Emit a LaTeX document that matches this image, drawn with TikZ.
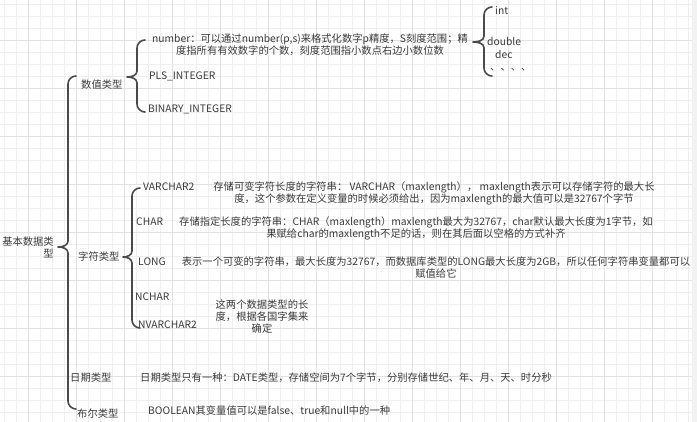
\documentclass[tikz,border=0pt]{standalone}
\usepackage{fontspec}
\setmainfont{Noto Sans CJK SC}
\usetikzlibrary{calc}
\definecolor{txt}{HTML}{3A3A3A}
\definecolor{brc}{HTML}{4A4A4A}
\definecolor{gminor}{HTML}{EFEFEF}
\definecolor{gmajor}{HTML}{E2E2E2}
\definecolor{sbar}{HTML}{F2F2F2}
\tikzset{
  lbl/.style={inner sep=0pt, anchor=west, text=txt, font=\fontsize{10.3}{12}\selectfont},
  para/.style={inner sep=0pt, text=txt, align=center, font=\fontsize{10.3}{12}\selectfont},
  bracestyle/.style={draw=brc, line width=1.6pt, line cap=round, line join=round},
  minorline/.style={draw=gminor, line width=1pt},
  majorline/.style={draw=gmajor, line width=1pt}
}
\newcommand\curly[3]{%
  \draw[bracestyle] let \p1=(#1), \p2=(#2), \p3=(#3) in
    (\x2+8pt,\y2) to[out=180,in=90] (\x2,\y2-8pt) -- (\x2,\y1+6pt)
    to[out=-90,in=0] (\x1,\y1) to[out=0,in=90] (\x2,\y1-6pt)
    -- (\x2,\y3+8pt) to[out=-90,in=180] (\x2+8pt,\y3);}
\begin{document}
\begin{tikzpicture}[x=1pt,y=-1pt]
\useasboundingbox (0,0) rectangle (697,422);
\fill[white] (0,0) rectangle (697,422);
% grid
\foreach \k in {0,...,57} \draw[minorline] (4.5+12*\k,0) -- (4.5+12*\k,422);
\foreach \j in {0,...,35} \draw[minorline] (0,4.5+12*\j) -- (697,4.5+12*\j);
\foreach \k in {0,...,14} \draw[majorline] (28.5+48*\k,0) -- (28.5+48*\k,422);
\foreach \j in {0,...,8} \draw[majorline] (0,40.5+48*\j) -- (697,40.5+48*\j);
\fill[sbar] (692,0) rectangle (697,422);

% nodes
\node[para, align=right, anchor=east] (root) at (54,247) {基本数据类\\型};
\node[lbl] (num) at (81,85) {数值类型};
\node[lbl] (chr) at (78,257) {字符类型};
\node[lbl] (date) at (70,378) {日期类型};
\node[lbl] (bool) at (77,414) {布尔类型};

\node[para] (numdesc) at (310,45) {number：可以通过number(p,s)来格式化数字p精度，S刻度范围；精\\度指所有有效数字的个数，刻度范围指小数点右边小数位数};
\node[lbl] (pls) at (149,76) {PLS\_INTEGER};
\node[lbl] (bin) at (148,109) {BINARY\_INTEGER};

\node[lbl] (int) at (495,11) {int};
\node[lbl] (dbl) at (487,41) {double};
\node[lbl] (dec) at (495,54) {dec};
\node[lbl] (etc) at (490,70) {、、、、};

\node[lbl] (vc2) at (143,187) {VARCHAR2};
\node[para] (vdesc) at (434,193) {存储可变字符长度的字符串： VARCHAR（maxlength）， maxlength表示可以存储字符的最大长\\度，这个参数在定义变量的时候必须给出，因为maxlength的最大值可以是32767个字节};
\node[lbl] (ch) at (136,222) {CHAR};
\node[para] (cdesc) at (416,228.5) {存储指定长度的字符串：CHAR（maxlength）maxlength最大为32767，char默认最大长度为1字节，如\\果赋给char的maxlength不足的话，则在其后面以空格的方式补齐};
\node[lbl] (lng) at (138,262) {LONG};
\node[para] (ldesc) at (436,267.5) {表示一个可变的字符串，最大长度为32767，而数据库类型的LONG最大长度为2GB，所以任何字符串变量都可以\\赋值给它};
\node[lbl] (nch) at (135,297) {NCHAR};
\node[lbl] (nvc) at (138,325) {NVARCHAR2};
\node[para] (note) at (262,317) {这两个数据类型的长\\度，根据各国字集来\\确定};

\node[lbl] (ddesc) at (140,378) {日期类型只有一种：DATE类型，存储空间为7个字节，分别存储世纪、年、月、天、时分秒};
\node[lbl] (bdesc) at (148,411) {BOOLEAN其变量值可以是false、true和null中的一种};

% brace coordinates
\coordinate (m-tip) at (58,247);
\coordinate (m-top) at (68,76);
\coordinate (m-bot) at (68,409);
\coordinate (a-tip) at (127,77);
\coordinate (a-top) at (137,40);
\coordinate (a-bot) at (137,112);
\coordinate (b-tip) at (473,42);
\coordinate (b-top) at (484,7);
\coordinate (b-bot) at (484,76);
\coordinate (c-tip) at (123,257);
\coordinate (c-top) at (132,188);
\coordinate (c-bot) at (132,328);

\curly{m-tip}{m-top}{m-bot}
\curly{a-tip}{a-top}{a-bot}
\curly{b-tip}{b-top}{b-bot}
\curly{c-tip}{c-top}{c-bot}
\end{tikzpicture}
\end{document}
